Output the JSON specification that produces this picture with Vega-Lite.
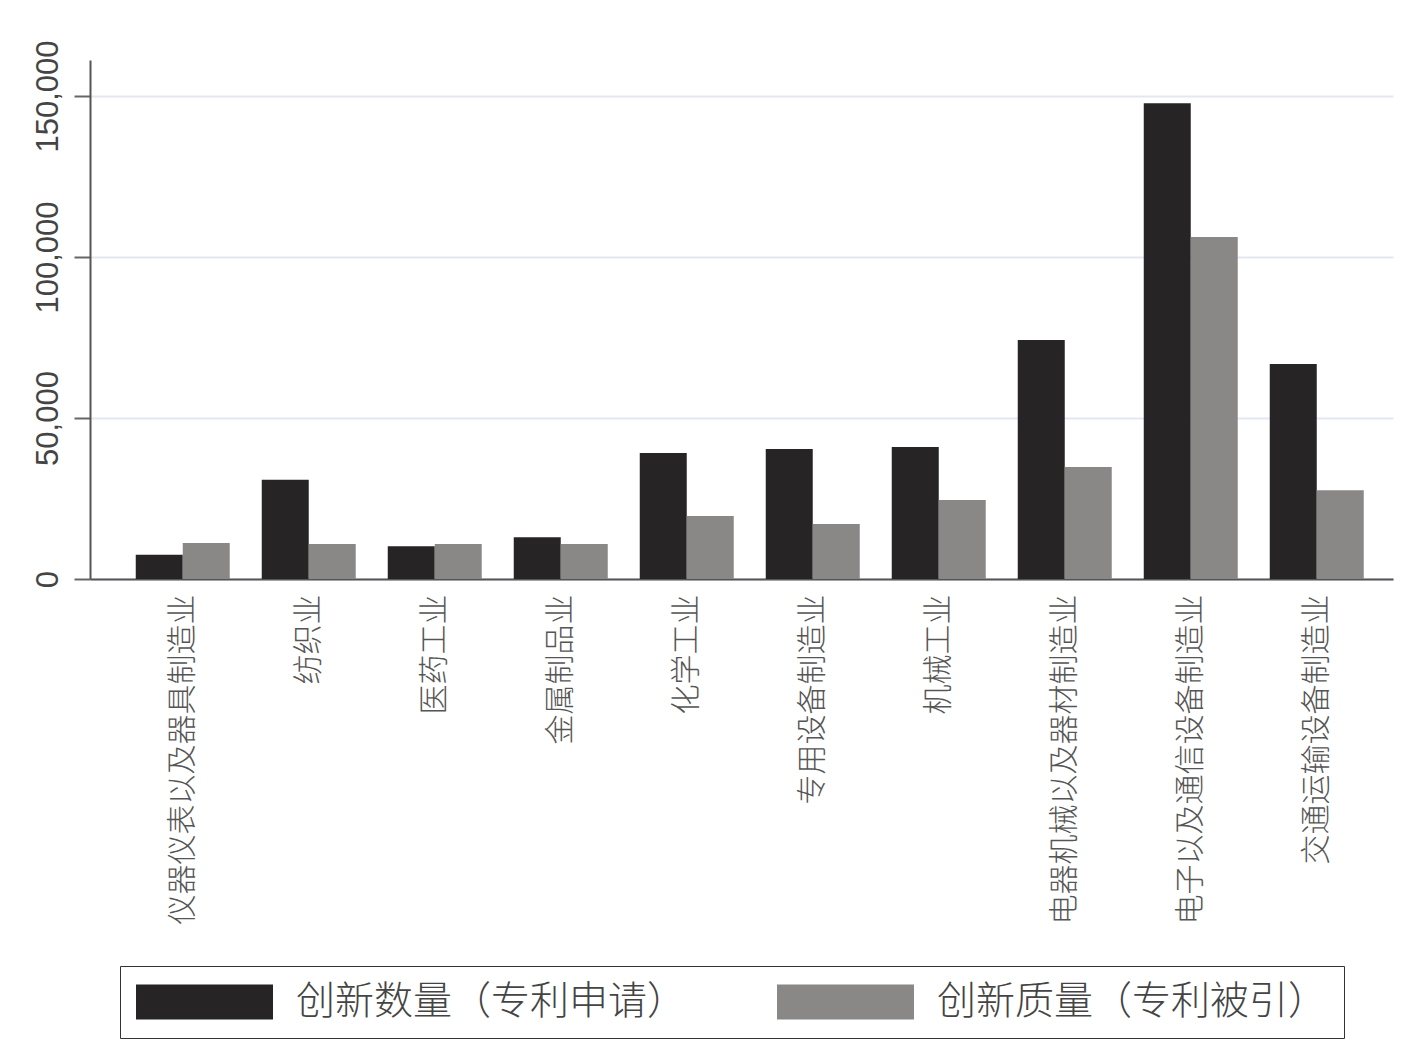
{
  "$schema": "https://vega.github.io/schema/vega-lite/v6.json",
  "width": 1303,
  "height": 519,
  "autosize": {"type": "none"},
  "padding": {"left": 90, "top": 60, "right": 28, "bottom": 475},
  "background": "white",
  "config": {"view": {"stroke": null}, "font": "Noto Sans CJK SC"},
  "data": {
    "values": [
      {"行业": "仪器仪表以及器具制造业", "指标": "创新数量（专利申请）", "值": 7500},
      {"行业": "仪器仪表以及器具制造业", "指标": "创新质量（专利被引）", "值": 11200},
      {"行业": "纺织业", "指标": "创新数量（专利申请）", "值": 30800},
      {"行业": "纺织业", "指标": "创新质量（专利被引）", "值": 10900},
      {"行业": "医药工业", "指标": "创新数量（专利申请）", "值": 10200},
      {"行业": "医药工业", "指标": "创新质量（专利被引）", "值": 10900},
      {"行业": "金属制品业", "指标": "创新数量（专利申请）", "值": 13000},
      {"行业": "金属制品业", "指标": "创新质量（专利被引）", "值": 10900},
      {"行业": "化学工业", "指标": "创新数量（专利申请）", "值": 39100},
      {"行业": "化学工业", "指标": "创新质量（专利被引）", "值": 19600},
      {"行业": "专用设备制造业", "指标": "创新数量（专利申请）", "值": 40400},
      {"行业": "专用设备制造业", "指标": "创新质量（专利被引）", "值": 17100},
      {"行业": "机械工业", "指标": "创新数量（专利申请）", "值": 41000},
      {"行业": "机械工业", "指标": "创新质量（专利被引）", "值": 24500},
      {"行业": "电器机械以及器材制造业", "指标": "创新数量（专利申请）", "值": 74200},
      {"行业": "电器机械以及器材制造业", "指标": "创新质量（专利被引）", "值": 34800},
      {"行业": "电子以及通信设备制造业", "指标": "创新数量（专利申请）", "值": 147800},
      {"行业": "电子以及通信设备制造业", "指标": "创新质量（专利被引）", "值": 106200},
      {"行业": "交通运输设备制造业", "指标": "创新数量（专利申请）", "值": 66800},
      {"行业": "交通运输设备制造业", "指标": "创新质量（专利被引）", "值": 27600}
    ]
  },
  "mark": {"type": "bar"},
  "encoding": {
    "x": {
      "field": "行业",
      "type": "nominal",
      "sort": null,
      "scale": {"paddingInner": 0.254, "paddingOuter": 0.2976, "align": 0.61},
      "axis": {
        "title": null,
        "labelAngle": -90,
        "labelAlign": "right",
        "labelBaseline": "middle",
        "labelFont": "Noto Sans CJK SC",
        "labelFontSize": 30,
        "labelFontWeight": 300,
        "labelColor": "#555555",
        "labelPadding": 15,
        "labelLimit": 600,
        "ticks": false,
        "tickSize": 0,
        "domainColor": "#555555",
        "domainWidth": 2
      }
    },
    "xOffset": {
      "field": "指标",
      "type": "nominal",
      "scale": {"domain": ["创新数量（专利申请）", "创新质量（专利被引）"]}
    },
    "y": {
      "field": "值",
      "type": "quantitative",
      "scale": {"domain": [0, 161200], "nice": false, "zero": true},
      "axis": {
        "title": null,
        "values": [0, 50000, 100000, 150000],
        "format": ",d",
        "labelAngle": -90,
        "labelAlign": "center",
        "labelBaseline": "bottom",
        "labelFont": "Liberation Sans",
        "labelFontSize": 31,
        "labelColor": "#444444",
        "labelPadding": 10,
        "tickSize": 16,
        "tickColor": "#666666",
        "tickWidth": 2,
        "domainColor": "#555555",
        "domainWidth": 2,
        "grid": true,
        "gridColor": "#e3e7f1",
        "gridWidth": 2
      }
    },
    "color": {
      "field": "指标",
      "type": "nominal",
      "scale": {
        "domain": ["创新数量（专利申请）", "创新质量（专利被引）"],
        "range": ["#262424", "#8a8787"]
      },
      "legend": {
        "title": null,
        "orient": "none",
        "legendX": 30,
        "legendY": 906,
        "direction": "horizontal",
        "columns": 2,
        "columnPadding": 90,
        "padding": 16,
        "clipHeight": 40,
        "symbolSize": 18769,
        "symbolType": "M-1,-0.255H1V0.255H-1Z",
        "symbolStrokeWidth": 0,
        "labelFont": "Noto Sans CJK SC",
        "labelFontSize": 39,
        "labelFontWeight": 300,
        "labelColor": "#444444",
        "labelOffset": 23,
        "labelLimit": 700,
        "strokeColor": "#333333",
        "fillColor": "white"
      }
    }
  }
}
